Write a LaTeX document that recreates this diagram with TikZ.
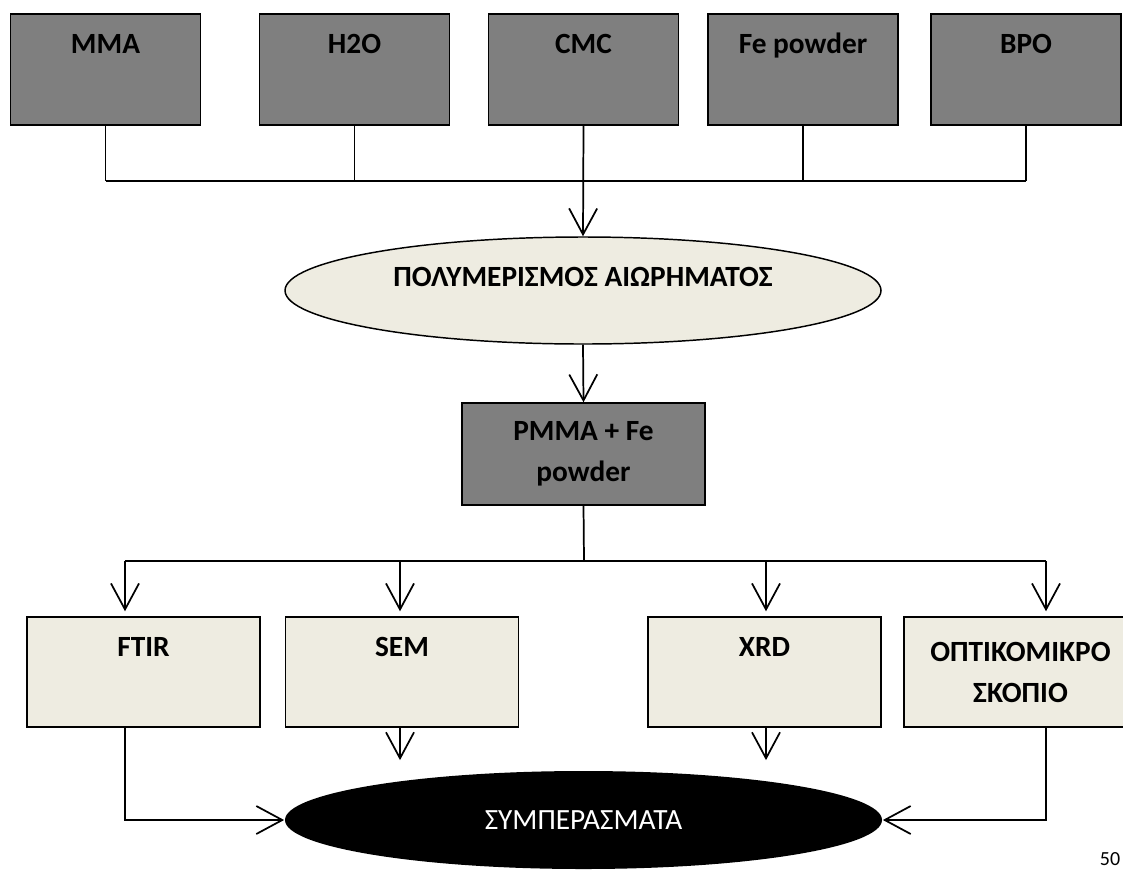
\documentclass[tikz,border=0pt]{standalone}
\usepackage{fontspec}
\setmainfont{Carlito}
\usetikzlibrary{shapes.geometric,arrows.meta}
\definecolor{boxGray}{RGB}{127,127,127}
\definecolor{boxCream}{RGB}{238,236,225}
\newcommand{\flowfont}{\fontsize{22}{30.75}\selectfont}

\begin{document}
\begin{tikzpicture}[x=0.75pt, y=-0.75pt, line width=1.3pt]%
  \tikzset{normal arrow/.style={draw,-{Straight Barb[length=19.5pt,width=21pt]}}}
  \tikzset{input box/.style={draw, line width=1.1pt, fill=boxGray, minimum width=142.5pt, inner sep=0pt, text height=29.6pt, text depth=53.6pt, font=\flowfont\bfseries}}
  \tikzset{test box/.style={draw, line width=1.1pt, fill=boxCream, minimum width=174.75pt, inner sep=0pt, text height=29.6pt, text depth=52.9pt, font=\flowfont\bfseries}}
  \tikzstyle{every node}=[font=\flowfont]
  \useasboundingbox (0,0) rectangle (1123,872);

  % raw materials
  \node[input box] at (105.5,69.5) (MMA) {MMA};
  \node[input box] at (354.5,69.5) (WATER) {H2O};
  \node[input box] at (583.5,69.5) (CMC) {CMC};
  \node[input box] at (803,69.5) (FE) {Fe powder};
  \node[input box] at (1026,69.5) (BPO) {BPO};

  \node[ellipse, draw, line width=1.1pt, fill=boxCream, inner sep=0pt, minimum width=447pt, minimum height=80.25pt, text height=15pt, text depth=21pt, font=\flowfont\bfseries] at (583,290.5) (SUSP) {ΠΟΛΥΜΕΡΙΣΜΟΣ ΑΙΩΡΗΜΑΤΟΣ};
  \node[draw, line width=1.1pt, fill=boxGray, minimum width=182.25pt, minimum height=76.5pt, align=center, font=\flowfont\bfseries] at (583.5,454) (PMMA) {PMMA + Fe\\powder};

  % characterisation
  \node[test box] at (143.5,672) (FTIR) {FTIR};
  \node[test box] at (402,672) (SEM) {SEM};
  \node[test box] at (764.5,672) (XRD) {XRD};
  \node[test box, text height=, text depth=, minimum height=82.5pt, align=center] at (1020.5,672) (OPT) {ΟΠΤΙΚΟΜΙΚΡΟ\\ΣΚΟΠΙΟ};

  \node[ellipse, fill=black, text=white, inner sep=0pt, minimum width=447.75pt, minimum height=73.5pt] at (583.5,820) (CONC) {ΣΥΜΠΕΡΑΣΜΑΤΑ};
  \node[anchor=north, inner sep=0pt, font=\fontsize{15}{18}\selectfont] at (1110,852) (PAGE) {50};

  \coordinate (JOIN) at (584,181);
  \foreach \n in {MMA,WATER,FE,BPO} \draw (\n.south) -- (\n.south |- JOIN);
  \draw (MMA.south |- JOIN) -- (BPO.south |- JOIN);
  \path[normal arrow] (CMC.south) -- (SUSP.north);
  \path[normal arrow] (SUSP.south) -- (PMMA.north);

  \coordinate (SPLIT) at (584,561);
  \coordinate (bFTIR) at (125,561);
  \coordinate (bSEM) at (400,561);
  \coordinate (bXRD) at (766,561);
  \coordinate (bOPT) at (1046,561);
  \draw (PMMA.south) -- (SPLIT);
  \draw (bFTIR) -- (bOPT);
  \foreach \n in {FTIR,SEM,XRD,OPT} \path[normal arrow, shorten >=3.75pt] (b\n) -- (b\n |- \n.north);

  \path[normal arrow] (bFTIR |- FTIR.south) |- (CONC.west);
  \path[normal arrow, shorten >=7.5pt] (bSEM |- SEM.south) -- (bSEM |- CONC.north);
  \path[normal arrow, shorten >=7.5pt] (bXRD |- XRD.south) -- (bXRD |- CONC.north);
  \path[normal arrow] (bOPT |- OPT.south) |- (CONC.east);
\end{tikzpicture}
\end{document}
